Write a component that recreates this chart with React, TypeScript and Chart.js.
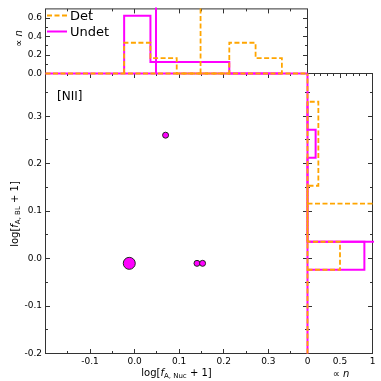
import React, { useEffect, useRef } from "react";
import { Chart, registerables } from "chart.js";
Chart.register(...registerables);

const FONT = "'DejaVu Sans', sans-serif";
const ORANGE = "#FFA500";
const MAGENTA = "#FF00FF";
const AXIS = "#333333";

// ---- scatter points (main panel) ----
const pointX = [0.0695, -0.012, 0.14, 0.1525];
const pointY = [0.26, -0.01, -0.01, -0.01];
const pointSize = [3, 6, 3, 3];

// ---- histograms (shared bin edges) ----
const binEdges = [-0.0235, 0.0355, 0.0945, 0.1535, 0.2125, 0.2715, 0.3305];
const detTop = [0.333, 0.167, 0, 0, 0.333, 0.167];
const undetTop = [0.625, 0.125, 0.125, 0.125, 0, 0];
const detRight = [0.5, 0, 0, 0.167, 0.167, 0.167];
const undetRight = [0.875, 0, 0, 0, 0.125, 0];
const detTopSpike = 0.148;
const undetTopSpike = 0.048;
const detRightSpike = 0.116;
const undetRightSpike = 0.0355;

// ---- tick values ----
const mainXTicks = [-0.1, 0, 0.1, 0.2, 0.3];
const mainXMinor = [-0.15, -0.05, 0.05, 0.15, 0.25, 0.35];
const mainYTicks = [-0.2, -0.1, 0, 0.1, 0.2, 0.3];
const mainYMinor = [-0.15, -0.05, 0.05, 0.15, 0.25, 0.35];
const topYTicks = [0, 0.2, 0.4, 0.6];
const topYMinor = [0.1, 0.3, 0.5];
const rightXTicks = [0, 0.5, 1];
const rightXMinor = [0.1, 0.2, 0.3, 0.4, 0.6, 0.7, 0.8, 0.9];

const X_MIN = -0.2, X_MAX = 0.388, Y_MIN = -0.2, Y_MAX = 0.39;

type Pt = { x: number; y: number };
function stepPts(edges: number[], h: number[], swap: boolean): Pt[] {
  const raw: [number, number][] = [[edges[0], 0]];
  h.forEach((v, i) => {
    raw.push([edges[i], v]);
    raw.push([edges[i + 1], v]);
  });
  raw.push([edges[edges.length - 1], 0]);
  return raw.map(([a, b]) => (swap ? { x: b, y: a } : { x: a, y: b }));
}

type Part = { t: string; size: number; italic?: boolean; dy?: number };
function drawRich(ctx: CanvasRenderingContext2D, parts: Part[], x: number, y: number, rot: boolean) {
  ctx.save();
  ctx.translate(x, y);
  if (rot) ctx.rotate(-Math.PI / 2);
  const fontOf = (p: Part) => `${p.italic ? "italic " : ""}${p.size}px ${FONT}`;
  let w = 0;
  parts.forEach((p) => {
    ctx.font = fontOf(p);
    w += ctx.measureText(p.t).width;
  });
  let cur = -w / 2;
  ctx.textBaseline = "alphabetic";
  ctx.textAlign = "left";
  ctx.fillStyle = "#000";
  parts.forEach((p) => {
    ctx.font = fontOf(p);
    ctx.fillText(p.t, cur, p.dy || 0);
    cur += ctx.measureText(p.t).width;
  });
  ctx.restore();
}

type Side = "top" | "bottom" | "left" | "right";
type TickSpec = { side: Side; major: number[]; minor: number[] };
function drawFrame(chart: any, specs: TickSpec[]) {
  const ctx: CanvasRenderingContext2D = chart.ctx;
  const a = chart.chartArea;
  const xs = chart.scales.x, ys = chart.scales.y;
  ctx.save();
  ctx.strokeStyle = AXIS;
  ctx.lineWidth = 1;
  ctx.strokeRect(a.left, a.top, a.right - a.left, a.bottom - a.top);
  for (const s of specs) {
    const horiz = s.side === "top" || s.side === "bottom";
    const sc = horiz ? xs : ys;
    const draw = (vals: number[], len: number) => {
      ctx.beginPath();
      for (const v of vals) {
        let p = sc.getPixelForValue(v);
        p = Math.round(p - 0.5) + 0.5;
        if (s.side === "bottom") { ctx.moveTo(p, a.bottom); ctx.lineTo(p, a.bottom - len); }
        if (s.side === "top") { ctx.moveTo(p, a.top); ctx.lineTo(p, a.top + len); }
        if (s.side === "left") { ctx.moveTo(a.left, p); ctx.lineTo(a.left + len, p); }
        if (s.side === "right") { ctx.moveTo(a.right, p); ctx.lineTo(a.right - len, p); }
      }
      ctx.stroke();
    };
    draw(s.major, 4.5);
    draw(s.minor, 2.5);
  }
  ctx.restore();
}

const tickFont = { family: FONT, size: 9 };
const line = (data: Pt[], color: string, dashed: boolean, order: number) => ({
  data,
  showLine: true,
  pointRadius: 0,
  borderColor: color,
  backgroundColor: color,
  borderWidth: dashed ? 1.8 : 2,
  borderDash: dashed ? [5, 2.5] : [],
  fill: false,
  order,
  clip: 1.5,
});

const baseOptions = (padding: any, scales: any, plugins: any = {}) => ({
  responsive: false,
  maintainAspectRatio: false,
  animation: false,
  layout: { padding },
  plugins: { legend: { display: false }, tooltip: { enabled: false }, ...plugins },
  scales,
});

export default function App() {
  const mainRef = useRef<HTMLCanvasElement>(null);
  const topRef = useRef<HTMLCanvasElement>(null);
  const rightRef = useRef<HTMLCanvasElement>(null);

  useEffect(() => {
    const charts: Chart[] = [];

    // ---------- main scatter ----------
    charts.push(
      new Chart(mainRef.current!, {
        type: "scatter",
        data: {
          datasets: [
            {
              data: pointX.map((x, i) => ({ x, y: pointY[i] })),
              pointRadius: pointSize,
              backgroundColor: MAGENTA,
              borderColor: "#222",
              borderWidth: 1,
            } as any,
          ],
        },
        options: baseOptions(
          { left: 0, top: 73.5, right: 73.5, bottom: 0 },
          {
            x: {
              type: "linear",
              position: "bottom",
              min: X_MIN,
              max: X_MAX,
              grid: { display: false, drawTicks: false },
              border: { display: false },
              afterBuildTicks: (s: any) => { s.ticks = mainXTicks.map((v) => ({ value: v })); },
              afterFit: (s: any) => { s.height = 27.5; },
              ticks: { font: tickFont, color: "#000", padding: 3, maxRotation: 0, autoSkip: false,
                callback: (v: any) => Number(v).toFixed(1) },
            },
            y: {
              type: "linear",
              position: "left",
              min: Y_MIN,
              max: Y_MAX,
              grid: { display: false, drawTicks: false },
              border: { display: false },
              afterBuildTicks: (s: any) => { s.ticks = mainYTicks.map((v) => ({ value: v })); },
              afterFit: (s: any) => { s.width = 45.5; },
              ticks: { font: tickFont, color: "#000", padding: 3.5, autoSkip: false,
                callback: (v: any) => Number(v).toFixed(1) },
            },
          }
        ) as any,
        plugins: [
          {
            id: "mainFrame",
            beforeDatasetsDraw: (chart: any) =>
              drawFrame(chart, [
                { side: "bottom", major: mainXTicks, minor: mainXMinor },
                { side: "top", major: mainXTicks, minor: mainXMinor },
                { side: "left", major: mainYTicks, minor: mainYMinor },
                { side: "right", major: mainYTicks, minor: mainYMinor },
              ]),
            afterDraw: (chart: any) => {
              const ctx = chart.ctx as CanvasRenderingContext2D;
              ctx.save();
              ctx.font = `12px ${FONT}`;
              ctx.fillStyle = "#000";
              ctx.textBaseline = "alphabetic";
              ctx.fillText("[NII]", 57, 99.5);
              ctx.restore();
              drawRich(ctx, [
                { t: "log[", size: 10 },
                { t: "f", size: 10, italic: true },
                { t: "A, Nuc", size: 7, dy: 2.2 },
                { t: " + 1]", size: 10 },
              ], 176.5, 376, false);
              drawRich(ctx, [
                { t: "log[", size: 10 },
                { t: "f", size: 10, italic: true },
                { t: "A, BL", size: 7, dy: 2.2 },
                { t: " + 1]", size: 10 },
              ], 17.8, 214, true);
            },
          },
        ],
      })
    );

    // ---------- top histogram ----------
    charts.push(
      new Chart(topRef.current!, {
        type: "scatter",
        data: {
          datasets: [
            line([{ x: X_MIN, y: 0 }, { x: X_MAX, y: 0 }], MAGENTA, false, 3),
            line(stepPts(binEdges, undetTop, false), MAGENTA, false, 3),
            line([{ x: undetTopSpike, y: 0 }, { x: undetTopSpike, y: 5 }], MAGENTA, false, 3),
            line([{ x: X_MIN, y: 0 }, { x: X_MAX, y: 0 }], ORANGE, true, 1),
            line(stepPts(binEdges, detTop, false), ORANGE, true, 1),
            line([{ x: detTopSpike, y: 0 }, { x: detTopSpike, y: 5 }], ORANGE, true, 1),
          ] as any,
        },
        options: baseOptions(
          { left: 0, top: 3.5, right: 73.5, bottom: 307.5 },
          {
            x: { type: "linear", display: false, min: X_MIN, max: X_MAX },
            y: {
              type: "linear",
              position: "left",
              min: 0,
              max: 0.7,
              grid: { display: false, drawTicks: false },
              border: { display: false },
              afterBuildTicks: (s: any) => { s.ticks = topYTicks.map((v) => ({ value: v })); },
              afterFit: (s: any) => { s.width = 45.5; },
              ticks: { font: tickFont, color: "#000", padding: 3.5, autoSkip: false,
                callback: (v: any) => Number(v).toFixed(1) },
            },
          }
        ) as any,
        plugins: [
          {
            id: "topFrame",
            beforeDatasetsDraw: (chart: any) =>
              drawFrame(chart, [
                { side: "top", major: mainXTicks, minor: mainXMinor },
                { side: "left", major: topYTicks, minor: topYMinor },
                { side: "right", major: topYTicks, minor: topYMinor },
              ]),
            afterDraw: (chart: any) => {
              const ctx = chart.ctx as CanvasRenderingContext2D;
              const entries = [
                { label: "Det", color: ORANGE, dash: [5, 2.5], w: 1.8, y: 15.5 },
                { label: "Undet", color: MAGENTA, dash: [], w: 2, y: 31.5 },
              ];
              ctx.save();
              for (const e of entries) {
                ctx.strokeStyle = e.color;
                ctx.lineWidth = e.w;
                ctx.setLineDash(e.dash);
                ctx.beginPath();
                ctx.moveTo(47, e.y);
                ctx.lineTo(67, e.y);
                ctx.stroke();
                ctx.setLineDash([]);
                ctx.font = `13px ${FONT}`;
                ctx.fillStyle = "#000";
                ctx.textBaseline = "alphabetic";
                ctx.fillText(e.label, 70, e.y + 4.7);
              }
              ctx.restore();
              drawRich(ctx, [
                { t: "\u221D ", size: 10 },
                { t: "n", size: 10, italic: true },
              ], 21.5, 38.5, true);
            },
          },
        ],
      })
    );

    // ---------- right histogram ----------
    charts.push(
      new Chart(rightRef.current!, {
        type: "scatter",
        data: {
          datasets: [
            line([{ x: 0, y: Y_MIN }, { x: 0, y: Y_MAX }], MAGENTA, false, 3),
            line(stepPts(binEdges, undetRight, true), MAGENTA, false, 3),
            line([{ x: 0, y: undetRightSpike }, { x: 5, y: undetRightSpike }], MAGENTA, false, 3),
            line([{ x: 0, y: Y_MIN }, { x: 0, y: Y_MAX }], ORANGE, true, 1),
            line(stepPts(binEdges, detRight, true), ORANGE, true, 1),
            line([{ x: 0, y: detRightSpike }, { x: 5, y: detRightSpike }], ORANGE, true, 1),
          ] as any,
        },
        options: baseOptions(
          { left: 307.5, top: 73.5, right: 8.5, bottom: 0 },
          {
            x: {
              type: "linear",
              position: "bottom",
              min: 0,
              max: 1,
              grid: { display: false, drawTicks: false },
              border: { display: false },
              afterBuildTicks: (s: any) => { s.ticks = rightXTicks.map((v) => ({ value: v })); },
              afterFit: (s: any) => { s.height = 27.5; },
              ticks: { font: tickFont, color: "#000", padding: 3, maxRotation: 0, autoSkip: false,
                callback: (v: any) => String(v) },
            },
            y: { type: "linear", display: false, min: Y_MIN, max: Y_MAX },
          }
        ) as any,
        plugins: [
          {
            id: "rightFrame",
            beforeDatasetsDraw: (chart: any) =>
              drawFrame(chart, [
                { side: "top", major: rightXTicks, minor: rightXMinor },
                { side: "left", major: mainYTicks, minor: mainYMinor },
                { side: "right", major: mainYTicks, minor: mainYMinor },
              ]),
            afterDraw: (chart: any) => {
              const ctx = chart.ctx as CanvasRenderingContext2D;
              drawRich(ctx, [
                { t: "\u221D ", size: 10 },
                { t: "n", size: 10, italic: true },
              ], 341, 377, false);
            },
          },
        ],
      })
    );

    return () => charts.forEach((c) => c.destroy());
  }, []);

  const cs: React.CSSProperties = { position: "absolute", left: 0, top: 0 };
  return (
    <div style={{ position: "fixed", left: 0, top: 0, width: 381, height: 381, background: "#fff" }}>
      <canvas ref={mainRef} width={381} height={381} style={cs} />
      <canvas ref={topRef} width={381} height={381} style={cs} />
      <canvas ref={rightRef} width={381} height={381} style={cs} />
    </div>
  );
}
